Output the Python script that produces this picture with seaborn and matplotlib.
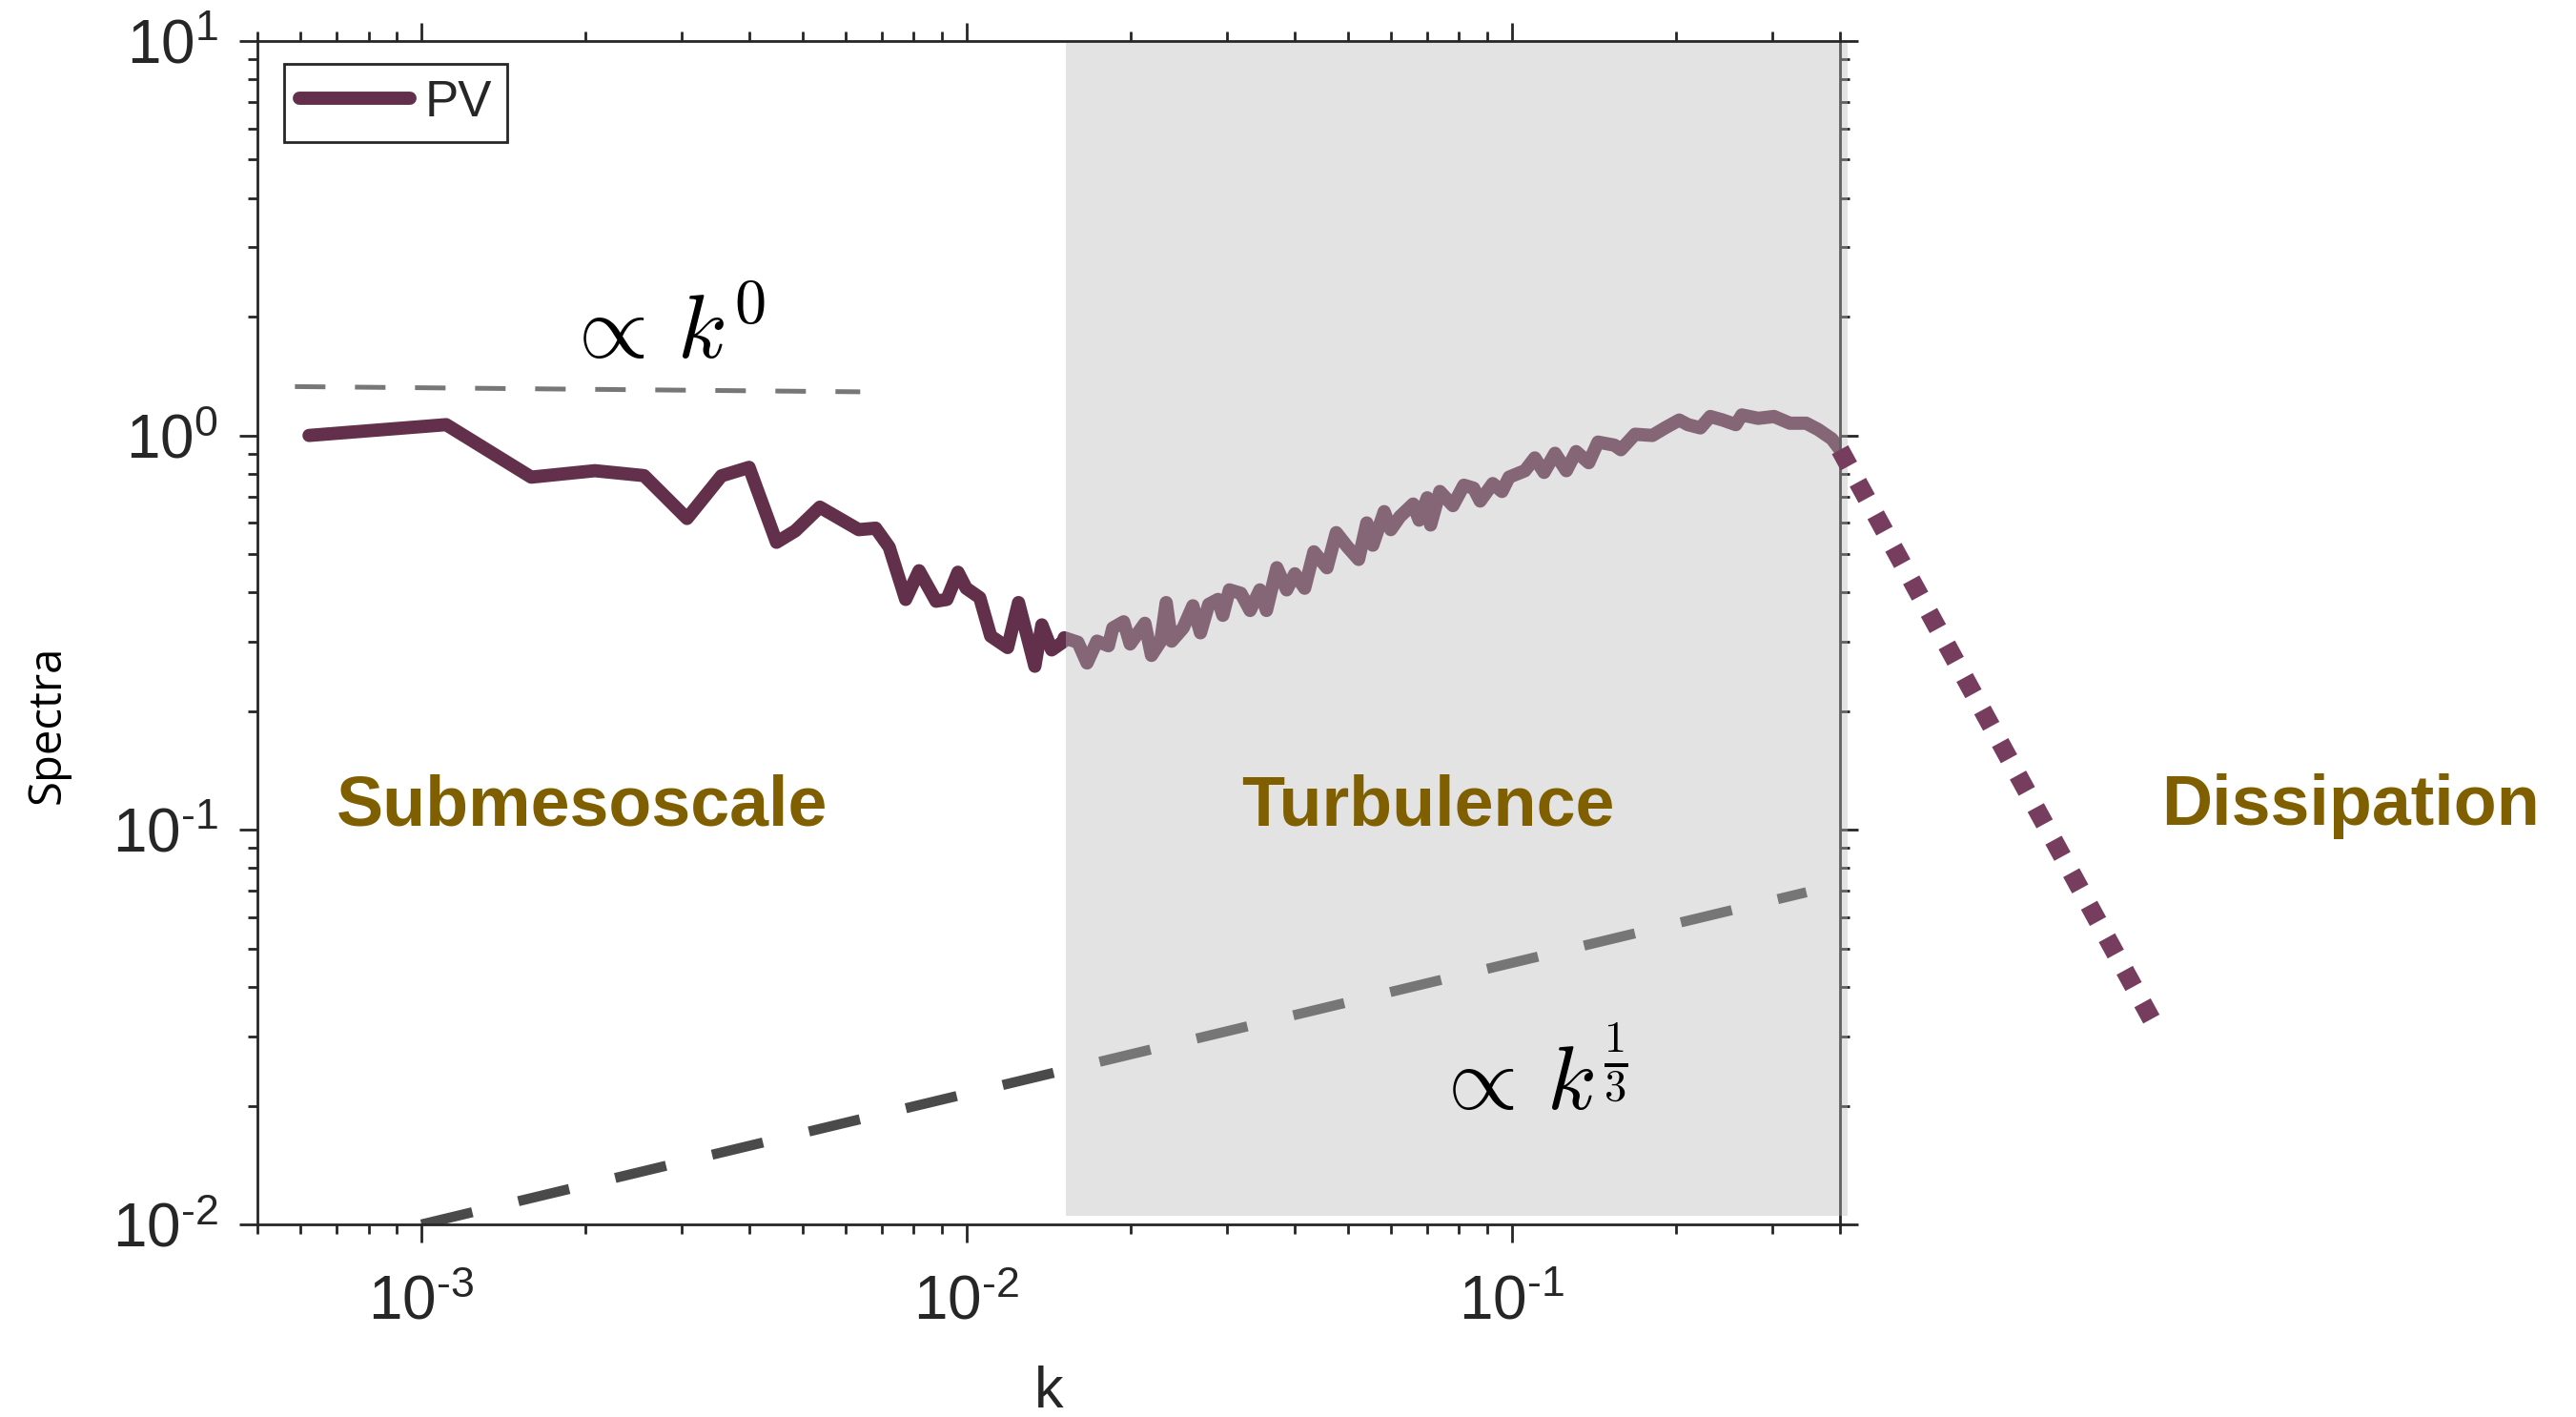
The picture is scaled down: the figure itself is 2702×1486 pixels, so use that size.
import numpy as np
import matplotlib
matplotlib.use("Agg")
import matplotlib.pyplot as plt
import seaborn as sns
from matplotlib.patches import Rectangle
from matplotlib.ticker import LogLocator, FuncFormatter, NullFormatter

# ---- PV spectrum (wavenumber k, spectral level) ----
k_pv = [
    6.22e-4, 1.11e-3, 1.59e-3, 2.08e-3, 2.56e-3, 3.07e-3, 3.55e-3, 3.99e-3,
    4.48e-3, 4.85e-3, 5.38e-3, 6.34e-3, 6.81e-3, 7.21e-3, 7.73e-3, 8.18e-3,
    8.79e-3, 9.20e-3, 9.64e-3, 9.98e-3, 1.057e-2, 1.107e-2, 1.189e-2, 1.245e-2,
    1.334e-2, 1.374e-2, 1.432e-2, 1.500e-2,
    1.510e-2, 1.600e-2, 1.663e-2, 1.734e-2, 1.820e-2, 1.854e-2, 1.941e-2, 1.995e-2,
    2.123e-2, 2.183e-2, 2.270e-2, 2.323e-2, 2.377e-2, 2.495e-2, 2.600e-2, 2.685e-2,
    2.780e-2, 2.891e-2, 2.951e-2, 3.034e-2, 3.184e-2, 3.311e-2, 3.451e-2, 3.548e-2,
    3.707e-2, 3.864e-2, 4.000e-2, 4.169e-2, 4.335e-2, 4.581e-2, 4.764e-2, 5.000e-2,
    5.236e-2, 5.420e-2, 5.559e-2, 5.834e-2, 5.998e-2, 6.237e-2, 6.592e-2, 6.761e-2,
    6.998e-2, 7.096e-2, 7.379e-2, 7.798e-2, 8.166e-2,
    8.511e-2, 8.750e-2, 9.226e-2, 9.594e-2, 9.886e-2, 0.1057, 0.1102, 0.1146,
    0.1200, 0.1259, 0.1312, 0.1384, 0.1439, 0.1542, 0.1585, 0.1683, 0.1811,
    0.1910, 0.2028, 0.2104, 0.2218, 0.2312, 0.2438, 0.2576, 0.2642, 0.2831,
    0.3027, 0.3236, 0.3467, 0.3648, 0.3864, 0.4000,
]
spec_pv = [
    1.000, 1.065, 0.784, 0.814, 0.791, 0.616, 0.790, 0.830,
    0.536, 0.573, 0.658, 0.577, 0.582, 0.521, 0.384, 0.454,
    0.380, 0.384, 0.450, 0.410, 0.388, 0.310, 0.290, 0.377,
    0.260, 0.331, 0.286, 0.299,
    0.307, 0.299, 0.265, 0.301, 0.293, 0.325, 0.337, 0.296,
    0.334, 0.277, 0.301, 0.377, 0.301, 0.325, 0.370, 0.316,
    0.373, 0.384, 0.350, 0.406, 0.398, 0.360, 0.406, 0.360,
    0.462, 0.406, 0.446, 0.410, 0.507, 0.462, 0.567, 0.521,
    0.485, 0.600, 0.527, 0.641, 0.577, 0.623, 0.670, 0.610,
    0.695, 0.593, 0.721, 0.664, 0.748,
    0.735, 0.682, 0.755, 0.721, 0.784, 0.814, 0.877, 0.806,
    0.901, 0.814, 0.910, 0.853, 0.962, 0.945, 0.920, 1.007, 1.000,
    1.045, 1.094, 1.065, 1.045, 1.117, 1.094, 1.065, 1.127, 1.105,
    1.117, 1.074, 1.074, 1.035, 0.980, 0.920,
]

# ---- reference slopes ----
k_flat = [5.86e-4, 6.38e-3]          # ~ k^0
spec_flat = [1.33, 1.29]
k_third = [1.0e-3, 0.347]            # ~ k^(1/3)
spec_third = [0.010, 0.0695]
k_diss = [0.400, 1.53]               # dissipation roll-off
spec_diss = [0.92, 0.031]

# ---- turbulence band ----
turb_k = [0.0152, 0.413]
turb_spec = [0.0105, 9.9]

region_names = ["Submesoscale", "Turbulence", "Dissipation"]
region_k = [1.97e-3, 0.0703, 3.45]

PV_COLOR = "#62304B"
DISS_COLOR = "#773D5E"
REGION_COLOR = "#7F5F00"
INK = "#262626"

sns.set_theme(style="ticks")
plt.rcParams.update({
    "font.family": ["Liberation Sans", "DejaVu Sans"],
    "mathtext.fontset": "custom",
    "mathtext.rm": "Liberation Sans",
    "mathtext.it": "Liberation Sans:italic",
    "mathtext.bf": "Liberation Sans:bold",
    "axes.edgecolor": INK,
    "axes.linewidth": 1.0,
})

fig = plt.figure(figsize=(13.51, 7.43), dpi=200)
ax = fig.add_axes([0.0999, 0.1359, 0.6144, 0.8352])
ax.set_xscale("log")
ax.set_yscale("log")

# PV spectrum
sns.lineplot(x=k_pv, y=spec_pv, ax=ax, color=PV_COLOR, lw=5.0,
             sort=False, estimator=None, label="PV", zorder=2)

# guide lines
ax.plot(k_flat, spec_flat, color="#777777", lw=1.8,
        linestyle=(0, (6.4, 6.2)), zorder=2)
ax.plot(k_third, spec_third, color="#4A4A4A", lw=3.8,
        linestyle=(0, (5.2, 4.7)), zorder=2)
ax.plot(k_diss, spec_diss, color=DISS_COLOR, lw=7.0,
        linestyle=(0, (1, 1)), dash_capstyle="butt", clip_on=False, zorder=3)

# shaded turbulence range
ax.add_patch(Rectangle((turb_k[0], turb_spec[0]), turb_k[1] - turb_k[0],
                       turb_spec[1] - turb_spec[0], facecolor="#B9B9B9",
                       alpha=0.4, edgecolor="none", zorder=2.6, clip_on=False))

ax.set_xlim(5e-4, 0.4)
ax.set_ylim(1e-2, 1e1)


def decade_label(v, pos):
    e = int(round(np.log10(v)))
    s = str(e).replace("-", "\u2010")
    return r"$\mathregular{10^{%s}}$" % s


for axis in (ax.xaxis, ax.yaxis):
    axis.set_major_locator(LogLocator(base=10, numticks=20))
    axis.set_minor_locator(LogLocator(base=10, subs=np.arange(2, 10), numticks=100))
    axis.set_major_formatter(FuncFormatter(decade_label))
    axis.set_minor_formatter(NullFormatter())

ax.tick_params(which="both", direction="out", top=True, right=True,
               labeltop=False, labelright=False, width=1.0, color=INK,
               labelcolor=INK, labelsize=23)
ax.tick_params(which="major", length=6.8)
ax.tick_params(which="minor", length=3.6)
ax.tick_params(axis="x", which="major", pad=12)
ax.tick_params(axis="y", which="major", pad=8)

ax.set_xlabel("k", fontsize=22, color=INK, va="center")
ax.xaxis.set_label_coords(0.5, -0.142)
ax.set_ylabel("Spectra", fontsize=17, family=["Open Sans", "DejaVu Sans"],
              color="black", va="center")
ax.yaxis.set_label_coords(-0.1325, 0.422)

# slope annotations
ax.text(2.79e-3, 1.57, r"$\propto\, k^{0}$", fontsize=34, math_fontfamily="cm",
        ha="center", va="baseline", color="black", zorder=4)
ax.text(0.108, 0.0195, r"$\propto\, k^{\frac{1}{3}}$", fontsize=34,
        math_fontfamily="cm", ha="center", va="baseline", color="black", zorder=4)

# regime labels
for name, kx in zip(region_names, region_k):
    ax.text(kx, 0.103, name, fontsize=26.5, fontweight="bold", color=REGION_COLOR,
            ha="center", va="baseline", clip_on=False, zorder=4)

leg = ax.legend(loc="upper left", bbox_to_anchor=(0.0169, 0.9807),
                borderaxespad=0, frameon=True, fancybox=False, edgecolor=INK,
                framealpha=1, fontsize=19, handlelength=2.2, handletextpad=0.3,
                borderpad=0.3)
leg.get_frame().set_linewidth(1.0)
leg.set_zorder(5)

fig.savefig("out.png", dpi=200)
